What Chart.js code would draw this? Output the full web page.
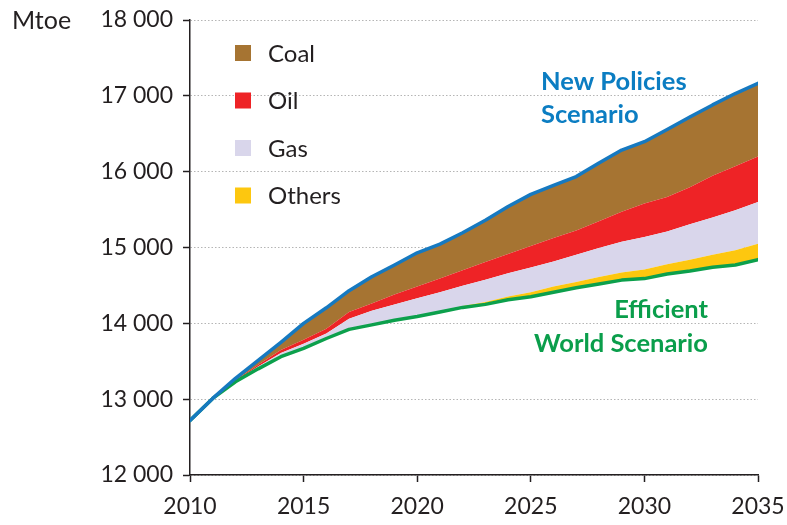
<!DOCTYPE html>
<html>
<head>
<meta charset="utf-8">
<script src="https://cdn.jsdelivr.net/npm/chart.js@4/dist/chart.umd.min.js"></script>
<style>
    html, body { margin: 0; padding: 0; background: #fff; }
    #wrap { width: 787px; height: 525px; }
</style>
</head>
<body>
<div id="wrap"><canvas id="energyChart" width="787" height="525"></canvas></div>
<script>
// ================================
// Data (Mtoe)
// ================================
const years = [2010, 2011, 2012, 2013, 2014, 2015, 2016, 2017, 2018, 2019, 2020, 2021, 2022,
               2023, 2024, 2025, 2026, 2027, 2028, 2029, 2030, 2031, 2032, 2033, 2034, 2035];

// Efficient World Scenario total demand (bottom line)
const efficientWorld = [12720, 13010, 13230, 13400, 13560, 13670, 13800, 13920, 13980, 14040, 14090, 14150, 14210,
                        14250, 14310, 14350, 14410, 14470, 14520, 14570, 14590, 14650, 14690, 14740, 14770, 14840];

// savings by fuel, stacked on top of the efficient world line
const others = [0, 0, 0, 0, 0, 0, 0, 0, 0, 0, 5, 10, 20,
                30, 45, 60, 75, 75, 90, 100, 120, 130, 150, 165, 195, 210];
const gas    = [0, 0, 10, 30, 50, 60, 65, 140, 185, 210, 235, 250, 265,
                295, 305, 325, 330, 360, 385, 405, 430, 430, 465, 490, 525, 550];
const oil    = [0, 0, 10, 25, 40, 55, 65, 90, 95, 130, 155, 180, 205,
                235, 255, 285, 310, 320, 350, 395, 440, 455, 490, 550, 580, 600];
const coal   = [0, 0, 25, 55, 100, 215, 275, 280, 355, 390, 445, 455, 495,
                550, 625, 680, 695, 710, 770, 815, 815, 890, 925, 935, 960, 965];

const yTicks = [12000, 13000, 14000, 15000, 16000, 17000, 18000];
const xTicks = [2010, 2015, 2020, 2025, 2030, 2035];

// New Policies Scenario = efficient world + all savings
const newPolicies = years.map((_, i) => efficientWorld[i] + others[i] + gas[i] + oil[i] + coal[i]);

// ================================
// Helpers
// ================================
const FONT = "Lato, 'Open Sans', sans-serif";
const TEXT = "#231f20";

function points(values) {
    return years.map((y, i) => ({ x: y, y: values[i] }));
}

function fmt(v) {
    return String(v).replace(/\B(?=(\d{3})+(?!\d))/g, " ");
}

// ================================
// Labels + legend drawn on canvas
// ================================
const annotations = {
    id: "annotations",
    afterDraw(chart) {
        const ctx = chart.ctx;
        ctx.save();

        // unit label
        ctx.fillStyle = TEXT;
        ctx.font = "25px " + FONT;
        ctx.textAlign = "left";
        ctx.textBaseline = "middle";
        ctx.fillText("Mtoe", 12, 21);

        // legend (Coal, Oil, Gas, Others)
        const order = [5, 4, 3, 2];
        ctx.font = "24px " + FONT;
        order.forEach((idx, i) => {
            const ds = chart.data.datasets[idx];
            const cy = 53 + i * 47.5;
            ctx.fillStyle = ds.backgroundColor;
            ctx.fillRect(235, cy - 8, 16, 16);
            ctx.fillStyle = TEXT;
            ctx.fillText(ds.label, 268, cy + 1);
        });

        // scenario labels
        ctx.font = "bold 25.5px " + FONT;
        ctx.textBaseline = "alphabetic";
        ctx.fillStyle = "#0b7dc2";
        ctx.fillText("New Policies", 541, 90);
        ctx.fillText("Scenario", 541, 123);

        ctx.fillStyle = "#0a9e4b";
        ctx.textAlign = "right";
        ctx.fillText("Efficient", 708, 318);
        ctx.fillText("World Scenario", 708, 352);

        ctx.restore();
    }
};

// ================================
// Chart
// ================================
function loadChart() {
    const ctx = document.getElementById("energyChart");

    new Chart(ctx, {
        type: "line",
        data: {
            datasets: [
                {
                    label: "New Policies Scenario",
                    data: points(newPolicies),
                    borderColor: "#1679c0",
                    borderWidth: 3.5,
                    fill: false,
                    stack: "nps"
                },
                {
                    label: "Efficient World Scenario",
                    data: points(efficientWorld),
                    borderColor: "#0ca04c",
                    borderWidth: 3.5,
                    fill: false,
                    stack: "fuels"
                },
                {
                    label: "Others",
                    data: points(others),
                    backgroundColor: "#fdc70f",
                    borderWidth: 0,
                    fill: "-1",
                    stack: "fuels"
                },
                {
                    label: "Gas",
                    data: points(gas),
                    backgroundColor: "#d9d6eb",
                    borderWidth: 0,
                    fill: "-1",
                    stack: "fuels"
                },
                {
                    label: "Oil",
                    data: points(oil),
                    backgroundColor: "#ee2326",
                    borderWidth: 0,
                    fill: "-1",
                    stack: "fuels"
                },
                {
                    label: "Coal",
                    data: points(coal),
                    backgroundColor: "#a67432",
                    borderWidth: 0,
                    fill: "-1",
                    stack: "fuels"
                }
            ]
        },
        options: {
            responsive: false,
            animation: false,
            layout: { padding: { top: 20, right: 29, left: 0, bottom: 0 } },
            elements: {
                point: { radius: 0 },
                line: { tension: 0, borderJoinStyle: "round", borderCapStyle: "round" }
            },
            plugins: {
                legend: { display: false },
                tooltip: { enabled: false }
            },
            scales: {
                x: {
                    type: "linear",
                    min: 2010,
                    max: 2035,
                    afterBuildTicks: (scale) => { scale.ticks = xTicks.map(v => ({ value: v })); },
                    afterFit: (scale) => {
                        scale.height = 50;
                        scale.paddingLeft = 0;
                        scale.paddingRight = 0;
                    },
                    ticks: {
                        color: TEXT,
                        font: { family: FONT, size: 23 },
                        padding: 11,
                        maxRotation: 0,
                        callback: (v) => String(v)
                    },
                    grid: {
                        drawOnChartArea: false,
                        drawTicks: true,
                        tickLength: 7,
                        tickColor: "#231f20",
                        tickWidth: 1.5
                    },
                    border: { display: true, color: "#231f20", width: 1.5 }
                },
                y: {
                    stacked: true,
                    min: 12000,
                    max: 18000,
                    afterBuildTicks: (scale) => { scale.ticks = yTicks.map(v => ({ value: v })); },
                    afterFit: (scale) => {
                        scale.width = 190;
                        scale.paddingTop = 0;
                        scale.paddingBottom = 0;
                    },
                    ticks: {
                        color: TEXT,
                        font: { family: FONT, size: 23 },
                        padding: 10,
                        callback: (v) => fmt(v)
                    },
                    grid: {
                        color: "#b5b5b5",
                        lineWidth: 1,
                        drawTicks: true,
                        tickLength: 7,
                        tickColor: "#231f20",
                        tickWidth: 1.5,
                        tickBorderDash: []
                    },
                    border: { display: true, color: "#231f20", width: 1.5, dash: [1.5, 2] }
                }
            }
        },
        plugins: [annotations]
    });
}

document.addEventListener("DOMContentLoaded", loadChart);
</script>
</body>
</html>
